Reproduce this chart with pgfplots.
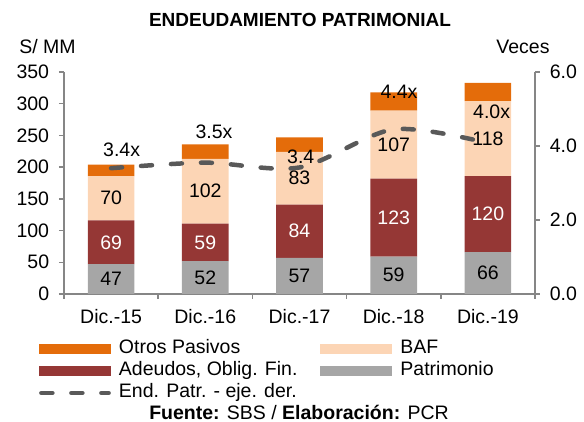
\documentclass[border=0pt]{standalone}
\usepackage{pgfplots}
\pgfplotsset{compat=1.18}
\usepackage{pgfplotstable}
\usepackage{fontspec}
\setmainfont{Liberation Sans}
\definecolor{cOtr}{HTML}{E46C0A}
\definecolor{cBaf}{HTML}{FCD5B5}
\definecolor{cAde}{HTML}{953735}
\definecolor{cPat}{HTML}{A6A6A6}
\definecolor{cLine}{HTML}{595959}
\definecolor{cAxis}{HTML}{868686}

\pgfplotsset{
  /pgf/number format/assume math mode=true,
  barleg/.style={legend image code/.code={\fill[##1] (0pt,-2.5pt) rectangle (36pt,2.5pt);}},
  lineleg/.style={legend image code/.code={\draw[##1] (1.2pt,0pt) -- (34.8pt,0pt);}},
  common/.style={at={(0pt,0pt)}, anchor=south west, scale only axis,
    width=235.5pt, height=111pt, xmin=-0.5, xmax=4.5,
    tick label style={font=\fontsize{9.75}{11}\selectfont},
    axis line style={cAxis, line width=0.75pt},
    tick style={cAxis, line width=0.75pt},
    tick align=outside, major tick length=2.5pt},
}

\pgfplotstableread{
x pat ade baf otr end
0 47 69 70 18 3.40
1 52 59 102 23 3.55
2 57 84 83 23 3.42
3 59 123 107 29 4.45
4 66 120 118 29 4.08
}\data

\pgfplotstableread{
lx ly lab
0.112 3.89 3.4x
1.092 4.38 3.5x
2.013 3.70 3.4
3.056 5.47 4.4x
4.040 4.92 4.0x
}\lbls

\begin{document}
\fontsize{9.75}{11.7}\selectfont
\begin{tikzpicture}
\useasboundingbox (-32pt,-64pt) rectangle (260pt,147pt);
\begin{axis}[common,
  ymin=0, ymax=350,
  ybar stacked, bar width=0.495,
  axis x line*=bottom, axis y line*=left,
  ytick={0,50,100,150,200,250,300,350},
  yticklabel style={xshift=-1.5pt},
  xtick={-0.5,0.5,1.5,2.5,3.5,4.5}, xticklabels={},
  extra x ticks={0,1,2,3,4},
  extra x tick labels={Dic.-15,Dic.-16,Dic.-17,Dic.-18,Dic.-19},
  extra x tick style={major tick length=0pt},
  xticklabel style={yshift=-4pt},
  legend columns=2,
  legend cell align=left,
  legend style={at={(axis description cs:-0.0531,-0.2027)}, anchor=north west,
    draw=none, fill=none, inner sep=0pt, outer sep=0pt, row sep=1pt,
    nodes={inner sep=0.5pt, text height=7pt, text depth=2pt, font=\fontsize{9.75}{11}\selectfont},
    /tikz/column 1/.style={column sep=3.5pt},
    /tikz/column 2/.style={column sep=11pt},
    /tikz/column 3/.style={column sep=3.5pt}},
]
\addplot[fill=cPat, draw=none, forget plot] table[x=x,y=pat]{\data};
\addplot[fill=cAde, draw=none, forget plot] table[x=x,y=ade]{\data};
\addplot[fill=cBaf, draw=none, forget plot] table[x=x,y=baf]{\data};
\addplot[fill=cOtr, draw=none, forget plot] table[x=x,y=otr]{\data};
\addlegendimage{barleg, fill=cOtr, draw=none}
\addlegendentry{Otros Pasivos}
\addlegendimage{barleg, fill=cBaf, draw=none}
\addlegendentry{BAF}
\addlegendimage{barleg, fill=cAde, draw=none}
\addlegendentry{Adeudos, Oblig. Fin.}
\addlegendimage{barleg, fill=cPat, draw=none}
\addlegendentry{Patrimonio}
\addlegendimage{lineleg, cLine, line width=2.25pt, dash pattern=on 5.5pt off 9.5pt, line cap=round}
\addlegendentry{End. Patr. - eje. der.}
\end{axis}
\begin{axis}[common,
  ymin=0, ymax=6,
  axis x line=none, axis y line*=right,
  ytick={0,2,4,6},
  yticklabel style={xshift=1.5pt, /pgf/number format/.cd, fixed, fixed zerofill, precision=1},
  clip=false,
]
\addplot[cLine, line width=2.25pt, dash pattern=on 5.5pt off 9.5pt, line cap=round, smooth, mark=none] table[x=x,y=end]{\data};
\addplot[draw=none, mark=none, nodes near coords, point meta=explicit symbolic,
  every node near coord/.append style={anchor=center, inner sep=0pt, font=\fontsize{9.75}{11}\selectfont, text=black}]
  table[x=lx, y=ly, meta=lab]{\lbls};
\end{axis}
\begin{axis}[common, ymin=0, ymax=350, hide axis, clip=false]
\addplot[draw=none, mark=none, nodes near coords, point meta=explicit,
  every node near coord/.append style={anchor=center, inner sep=0pt, font=\fontsize{9.75}{11}\selectfont, text=black}]
  table[x=x, y expr=\thisrow{pat}/2, meta=pat]{\data};
\addplot[draw=none, mark=none, nodes near coords, point meta=explicit,
  every node near coord/.append style={anchor=center, inner sep=0pt, font=\fontsize{9.75}{11}\selectfont, text=white}]
  table[x=x, y expr=\thisrow{pat}+\thisrow{ade}/2, meta=ade]{\data};
\addplot[draw=none, mark=none, nodes near coords, point meta=explicit,
  every node near coord/.append style={anchor=center, inner sep=0pt, font=\fontsize{9.75}{11}\selectfont, text=black}]
  table[x=x, y expr=\thisrow{pat}+\thisrow{ade}+\thisrow{baf}/2, meta=baf]{\data};
\end{axis}
\node[font=\bfseries\fontsize{9.5}{11}\selectfont] at (118pt,137pt) {ENDEUDAMIENTO PATRIMONIAL};
\node[anchor=west, inner sep=0pt] at (-22.5pt,123.5pt) {S/ MM};
\node[anchor=west, inner sep=0pt] at (216pt,123.5pt) {Veces};
\node[inner sep=0pt] at (117.5pt,-59pt) {\textbf{Fuente:} SBS / \textbf{Elaboración:} PCR};
\end{tikzpicture}
\end{document}
